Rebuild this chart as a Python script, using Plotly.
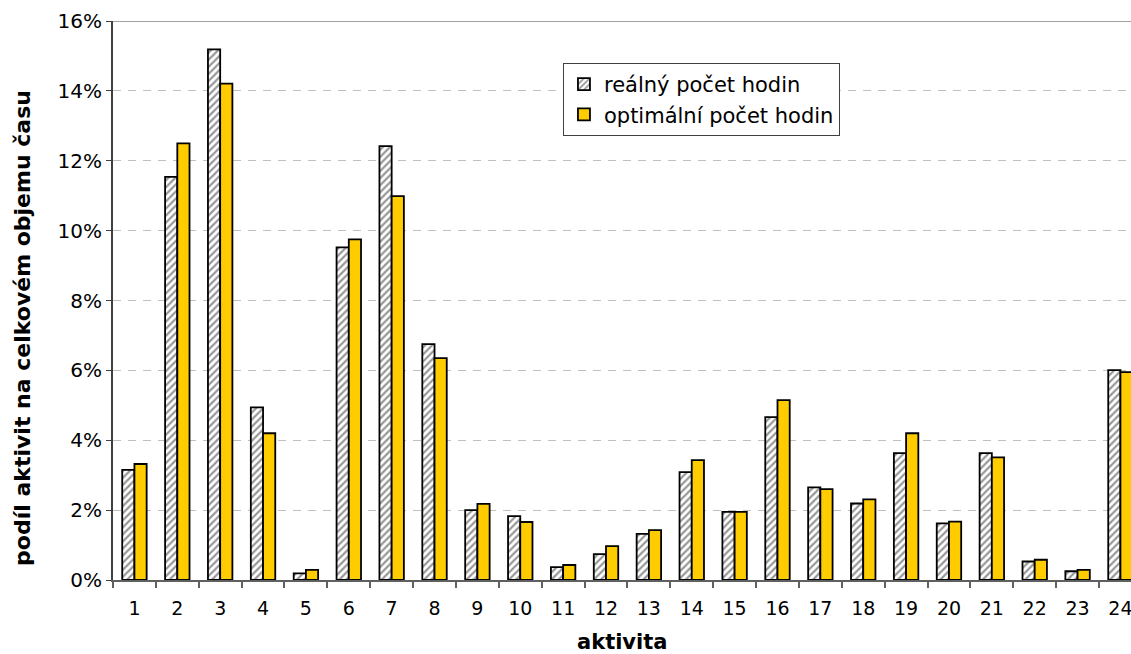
import plotly.graph_objects as go

categories = [str(i) for i in range(1, 25)]
realny = [3.15, 11.54, 15.19, 4.94, 0.19, 9.52, 12.42, 6.75, 2.0, 1.83, 0.37, 0.74,
          1.32, 3.09, 1.95, 4.66, 2.65, 2.19, 3.63, 1.62, 3.63, 0.53, 0.25, 6.01]
optimalni = [3.32, 12.5, 14.21, 4.2, 0.29, 9.75, 10.99, 6.35, 2.18, 1.66, 0.43, 0.97,
             1.43, 3.43, 1.95, 5.15, 2.6, 2.31, 4.2, 1.67, 3.51, 0.58, 0.29, 5.95]
y_ticks = [0, 0.02, 0.04, 0.06, 0.08, 0.10, 0.12, 0.14, 0.16]
y_labels = ["0%", "2%", "4%", "6%", "8%", "10%", "12%", "14%", "16%"]

FONT = "DejaVu Sans, Verdana, sans-serif"

fig = go.Figure()
fig.add_trace(go.Bar(
    x=categories, y=[v / 100 for v in realny], name="reálný počet hodin",
    marker=dict(color="white", line=dict(color="black", width=1.8),
                pattern=dict(shape="/", fgcolor="#303030", bgcolor="white",
                             size=5, solidity=0.45)),
))
fig.add_trace(go.Bar(
    x=categories, y=[v / 100 for v in optimalni], name="optimální počet hodin",
    marker=dict(color="#FFCC00", line=dict(color="black", width=1.8)),
))

fig.update_layout(
    width=1131, height=654,
    margin=dict(l=113, r=0, t=21, b=74, autoexpand=False),
    paper_bgcolor="white", plot_bgcolor="white",
    barmode="group", bargap=0.43, bargroupgap=0.0,
    font=dict(family=FONT, size=20, color="black"),
    legend=dict(x=0.442, y=0.925, xanchor="left", yanchor="top",
                bgcolor="white", bordercolor="#404040", borderwidth=1,
                font=dict(family=FONT, size=21), tracegroupgap=0,
                itemwidth=30),
    shapes=[dict(type="line", xref="paper", yref="y", x0=0, x1=1, y0=0.16, y1=0.16,
                 line=dict(color="#a0a0a0", width=2), layer="below")],
    annotations=[
        dict(text="<b>podíl aktivit na celkovém objemu času</b>", xref="paper", yref="paper",
             x=(23 - 113) / 1018, y=0.451, xanchor="center", yanchor="middle",
             textangle=-90, showarrow=False, font=dict(family=FONT, size=22)),
        dict(text="<b>aktivita</b>", xref="paper", yref="paper",
             x=(622 - 113) / 1018, y=(580 - 642) / 559, xanchor="center", yanchor="middle",
             showarrow=False, font=dict(family=FONT, size=21)),
    ],
)
fig.update_xaxes(
    type="category", range=[-0.5, 23.246], automargin=False,
    tickson="boundaries", ticks="outside", ticklen=6, tickcolor="#606060", tickwidth=2,
    showline=True, linecolor="#606060", linewidth=2,
    showgrid=False, tickfont=dict(size=19), ticklabelstandoff=10,
)
fig.update_yaxes(
    range=[0, 0.16], tickvals=y_ticks, ticktext=y_labels, automargin=False,
    ticks="outside", ticklen=5, tickcolor="#404040", tickwidth=1,
    showline=True, linecolor="#404040", linewidth=2,
    showgrid=True, gridcolor="#c0c0c0", gridwidth=1, griddash="8px,7px",
    zeroline=False, tickfont=dict(size=20),
)

fig.write_html(
    "out.html",
    config={"displayModeBar": False},
    post_script="document.body.style.margin='0';document.documentElement.style.overflow='hidden';",
)
